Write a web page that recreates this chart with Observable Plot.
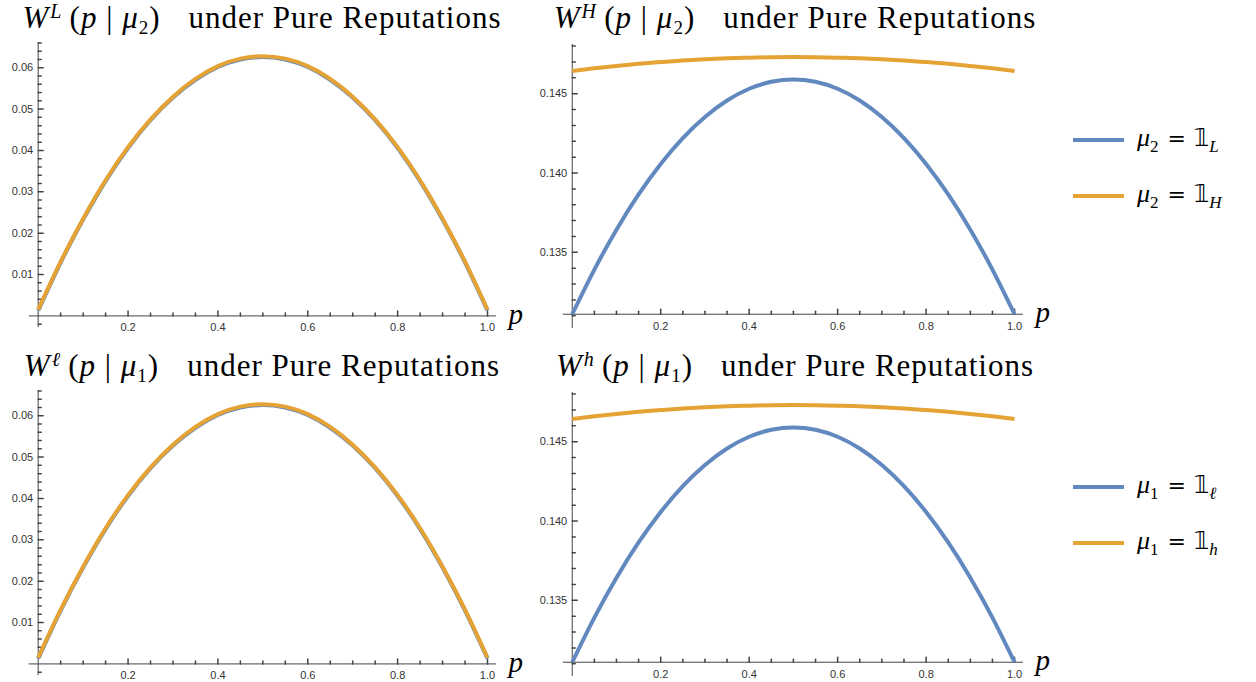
<!DOCTYPE html>
<html>
<head>
<meta charset="utf-8">
<script src="https://cdn.jsdelivr.net/npm/d3@7"></script>
<script src="https://cdn.jsdelivr.net/npm/@observablehq/plot@0.6"></script>
<style>
  body { margin: 0; background: #fff; }
  #wrap { position: relative; width: 1256px; height: 682px; overflow: hidden; background: #fff; }
  .panel { position: absolute; }
  .title { position: absolute; font-family: "Liberation Serif", "Times New Roman", serif; font-size: 31px; line-height: 31px;
           white-space: nowrap; color: #000; transform: translateX(-50%); letter-spacing: 1px; }
  .sup { position: relative; top: -10px; font-size: 20px; font-style: italic; margin-left: 1px; }
  .sub { position: relative; top: 6px; font-size: 19px; }
  .gap { display: inline-block; width: 28px; }
  .leg-line { position: absolute; left: 1073px; width: 51px; height: 4px; }
  .leg-text { position: absolute; left: 1137px; font-family: "Liberation Serif", "Times New Roman", serif; font-size: 26px;
              line-height: 30px; white-space: nowrap; color: #000; }
  .leg-text .lsub { position: relative; top: 6px; font-size: 17px; }
  .eq { font-family: "DejaVu Sans", sans-serif; font-size: 22px; margin: 0 8px 0 9px; }
  .one { font-family: "DejaVu Sans", "DejaVu Serif", sans-serif; font-size: 24px; }
</style>
</head>
<body>
<div id="wrap"></div>
<script>
// ---------- data ----------
const pGrid = [0, 0.05, 0.1, 0.15, 0.2, 0.25, 0.3, 0.35, 0.4, 0.45, 0.5, 0.55, 0.6, 0.65, 0.7, 0.75, 0.8, 0.85, 0.9, 0.95, 1];

// W^L(p | mu2)
const wLowBlue   = [0.0013, 0.0129, 0.0233, 0.0326, 0.0406, 0.0473, 0.0528, 0.0571, 0.0602, 0.0620, 0.0626, 0.0620, 0.0602, 0.0571, 0.0528, 0.0473, 0.0406, 0.0326, 0.0233, 0.0129, 0.0013];
const wLowOrange = [0.0015, 0.0131, 0.0235, 0.0328, 0.0408, 0.0475, 0.0530, 0.0573, 0.0604, 0.0622, 0.0628, 0.0622, 0.0604, 0.0573, 0.0530, 0.0475, 0.0408, 0.0328, 0.0235, 0.0131, 0.0015];
// W^H(p | mu2)
const wHighBlue   = [0.13110, 0.13391, 0.13643, 0.13865, 0.14057, 0.14220, 0.14353, 0.14457, 0.14531, 0.14575, 0.14590, 0.14575, 0.14531, 0.14457, 0.14353, 0.14220, 0.14057, 0.13865, 0.13643, 0.13391, 0.13110];
const wHighOrange = [0.14643, 0.14660, 0.14675, 0.14688, 0.14699, 0.14709, 0.14717, 0.14723, 0.14727, 0.14730, 0.14731, 0.14730, 0.14727, 0.14723, 0.14717, 0.14709, 0.14699, 0.14688, 0.14675, 0.14660, 0.14643];
// W^l(p | mu1)
const wEllBlue   = [0.0013, 0.0129, 0.0233, 0.0326, 0.0406, 0.0473, 0.0528, 0.0571, 0.0602, 0.0620, 0.0626, 0.0620, 0.0602, 0.0571, 0.0528, 0.0473, 0.0406, 0.0326, 0.0233, 0.0129, 0.0013];
const wEllOrange = [0.0015, 0.0131, 0.0235, 0.0328, 0.0408, 0.0475, 0.0530, 0.0573, 0.0604, 0.0622, 0.0628, 0.0622, 0.0604, 0.0573, 0.0530, 0.0475, 0.0408, 0.0328, 0.0235, 0.0131, 0.0015];
// W^h(p | mu1)
const wHBlue   = [0.13110, 0.13391, 0.13643, 0.13865, 0.14057, 0.14220, 0.14353, 0.14457, 0.14531, 0.14575, 0.14590, 0.14575, 0.14531, 0.14457, 0.14353, 0.14220, 0.14057, 0.13865, 0.13643, 0.13391, 0.13110];
const wHOrange = [0.14643, 0.14660, 0.14675, 0.14688, 0.14699, 0.14709, 0.14717, 0.14723, 0.14727, 0.14730, 0.14731, 0.14730, 0.14727, 0.14723, 0.14717, 0.14709, 0.14699, 0.14688, 0.14675, 0.14660, 0.14643];

// ticks
const xMajorTicks = [0.2, 0.4, 0.6, 0.8, 1.0];
const xMinorTicks = [0.05, 0.1, 0.15, 0.25, 0.3, 0.35, 0.45, 0.5, 0.55, 0.65, 0.7, 0.75, 0.85, 0.9, 0.95];
const yLowMajor = [0.01, 0.02, 0.03, 0.04, 0.05, 0.06];
const yLowMinor = [-0.002, 0.002, 0.004, 0.006, 0.008, 0.012, 0.014, 0.016, 0.018, 0.022, 0.024, 0.026, 0.028,
                   0.032, 0.034, 0.036, 0.038, 0.042, 0.044, 0.046, 0.048, 0.052, 0.054, 0.056, 0.058, 0.062, 0.064, 0.066];
const yHighMajor = [0.135, 0.140, 0.145];
const yHighMinor = [0.131, 0.132, 0.133, 0.134, 0.136, 0.137, 0.138, 0.139, 0.141, 0.142, 0.143, 0.144, 0.146, 0.147, 0.148];

const blueColor = "#6289BF";
const orangeColor = "#E5A336";
const axisColor = "#444";
const labelColor = "#333";

const tickShape = { draw(ctx, l) { ctx.moveTo(0, 0); ctx.lineTo(0, -l); } };

function panel(o) {
  const rows = pGrid.map((p, i) => ({ p, blue: o.blue[i], orange: o.orange[i] }));
  const chart = Plot.plot({
    width: o.width, height: o.height,
    marginLeft: o.mL, marginRight: o.mR, marginTop: o.mT, marginBottom: o.mB,
    x: { domain: [-0.02, 1.02], axis: null },
    y: { domain: o.yDomain, axis: null },
    style: { overflow: "visible", background: "transparent", fontFamily: "'Liberation Sans', Arial, sans-serif", fontSize: "11px" },
    marks: [
      Plot.ruleY([o.cross], { stroke: axisColor, strokeWidth: 1 }),
      Plot.ruleX([0], { stroke: axisColor, strokeWidth: 1 }),
      Plot.vector(xMajorTicks, { x: d => d, y: () => o.cross, length: 5, anchor: "start", shape: tickShape, stroke: axisColor }),
      Plot.vector(xMinorTicks, { x: d => d, y: () => o.cross, length: 3, anchor: "start", shape: tickShape, stroke: axisColor }),
      Plot.vector(o.yMajor, { x: () => 0, y: d => d, length: 5, rotate: 90, anchor: "start", shape: tickShape, stroke: axisColor }),
      Plot.vector(o.yMinor, { x: () => 0, y: d => d, length: 3, rotate: 90, anchor: "start", shape: tickShape, stroke: axisColor }),
      Plot.text(xMajorTicks, { x: d => d, y: () => o.cross, dy: 12, text: d => d.toFixed(1), fill: labelColor, fontSize: 11 }),
      Plot.text(o.yMajor, { x: () => 0, y: d => d, dx: -5, textAnchor: "end", text: o.yFmt, fill: labelColor, fontSize: 11 }),
      Plot.line(rows, { x: "p", y: "blue", stroke: blueColor, strokeWidth: 4, curve: "natural", strokeLinecap: "butt" }),
      Plot.line(rows, { x: "p", y: "orange", stroke: orangeColor, strokeWidth: 4, curve: "natural", strokeLinecap: "butt" }),
      Plot.text(["p"], { x: () => 1, y: () => o.cross, dx: 21, dy: 8, lineAnchor: "bottom", textAnchor: "start",
                         text: d => d, fontFamily: "'Liberation Serif', serif", fontStyle: "italic", fontSize: 29, fill: "#000" })
    ]
  });
  chart.classList.add("panel");
  chart.style.left = o.left + "px";
  chart.style.top = o.top + "px";
  return chart;
}

const wrap = document.getElementById("wrap");
const fmt2 = d => d3.format(".2f")(d);
const fmt3 = d => d3.format(".3f")(d);

const lowCfg = { width: 530, height: 300, mL: 28.7, mR: 34, mT: 4, mB: 11, yDomain: [-0.0028, 0.0661], cross: 0,
                 yMajor: yLowMajor, yMinor: yLowMinor, yFmt: fmt2 };
const highCfg = { width: 528, height: 300, mL: 32.9, mR: 35.1, mT: 6, mB: 10, yDomain: [0.1302, 0.1481], cross: 0.1311,
                  yMajor: yHighMajor, yMinor: yHighMinor, yFmt: fmt3 };

wrap.appendChild(panel({ ...lowCfg, left: 0, top: 38, blue: wLowBlue, orange: wLowOrange }));
wrap.appendChild(panel({ ...highCfg, left: 530, top: 38, blue: wHighBlue, orange: wHighOrange }));
wrap.appendChild(panel({ ...lowCfg, left: 0, top: 386, blue: wEllBlue, orange: wEllOrange }));
wrap.appendChild(panel({ ...highCfg, left: 530, top: 386, blue: wHBlue, orange: wHOrange }));

// titles
const titles = [
  { x: 262, y: 2, sup: "L", sub: "2" },
  { x: 795, y: 2, sup: "H", sub: "2" },
  { x: 262, y: 350, sup: "ℓ", sub: "1" },
  { x: 795, y: 350, sup: "h", sub: "1" }
];
titles.forEach(t => {
  const d = document.createElement("div");
  d.className = "title";
  d.style.left = t.x + "px";
  d.style.top = t.y + "px";
  d.innerHTML = `<i>W</i><span class="sup">${t.sup}</span>&thinsp;(<i>p</i> | <i>μ</i><span class="sub">${t.sub}</span>)<span class="gap"></span>under Pure Reputations`;
  wrap.appendChild(d);
});

// legends
const legendRows = [
  { y: 140, color: blueColor, sub: "2", idx: "L" },
  { y: 196, color: orangeColor, sub: "2", idx: "H" },
  { y: 487, color: blueColor, sub: "1", idx: "ℓ" },
  { y: 543, color: orangeColor, sub: "1", idx: "h" }
];
legendRows.forEach(r => {
  const line = document.createElement("div");
  line.className = "leg-line";
  line.style.top = (r.y - 2) + "px";
  line.style.background = r.color;
  wrap.appendChild(line);
  const t = document.createElement("div");
  t.className = "leg-text";
  t.style.top = (r.y - 17) + "px";
  t.innerHTML = `<i>μ</i><span class="lsub">${r.sub}</span><span class="eq">=</span><span class="one">𝟙</span><span class="lsub"><i>${r.idx}</i></span>`;
  wrap.appendChild(t);
});
</script>
</body>
</html>
